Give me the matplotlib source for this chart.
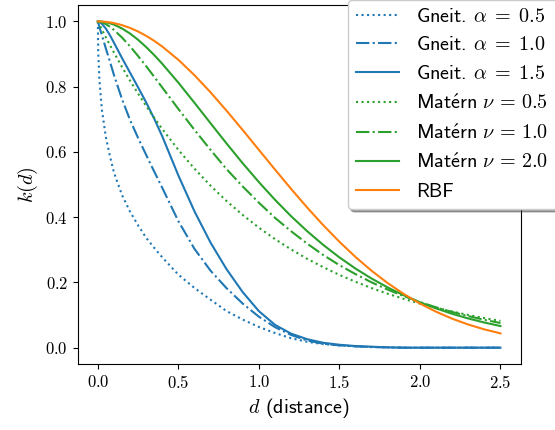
import matplotlib
matplotlib.use("Agg")
import matplotlib.pyplot as plt

plt.rcParams['font.family'] = ['cmss10', 'DejaVu Sans']
plt.rcParams['mathtext.fontset'] = 'cm'

# distances at which each kernel was evaluated
d = [0, 0.0025, 0.01, 0.025, 0.05, 0.075, 0.1, 0.15, 0.2, 0.25, 0.3, 0.35, 0.4,
     0.5, 0.6, 0.7, 0.8, 0.9, 1.0, 1.1, 1.2, 1.3, 1.4, 1.5, 1.6, 1.7, 1.8, 1.9,
     2.0, 2.1, 2.2, 2.3, 2.4, 2.5]

gneit_05 = [1.0, 0.905, 0.82, 0.73, 0.645, 0.588, 0.537, 0.468, 0.417, 0.375, 0.337, 0.306, 0.277,
            0.224, 0.183, 0.147, 0.112, 0.086, 0.0635, 0.045, 0.029, 0.018, 0.011, 0.007, 0.004,
            0.002, 0.001, 0, 0, 0, 0, 0, 0, 0]
gneit_10 = [1.0, 0.996, 0.983, 0.958, 0.917, 0.877, 0.836, 0.762, 0.698, 0.643, 0.591, 0.54, 0.49,
            0.388, 0.303, 0.236, 0.182, 0.135, 0.095, 0.063, 0.039, 0.022, 0.012, 0.007, 0.004,
            0.002, 0.001, 0, 0, 0, 0, 0, 0, 0]
gneit_15 = [1.0, 1.0, 0.998, 0.993, 0.978, 0.958, 0.935, 0.888, 0.843, 0.798, 0.752, 0.702, 0.648,
            0.528, 0.418, 0.322, 0.24, 0.17, 0.112, 0.07, 0.043, 0.026, 0.015, 0.009, 0.005,
            0.003, 0.001, 0, 0, 0, 0, 0, 0, 0]
matern_05 = [1.0, 0.9975, 0.99, 0.9753, 0.9512, 0.9277, 0.9048, 0.8607, 0.8187, 0.7788, 0.7408, 0.7047, 0.6703,
             0.6065, 0.5488, 0.4966, 0.4493, 0.4066, 0.3679, 0.3329, 0.3012, 0.2725, 0.2466, 0.2231, 0.2019,
             0.1827, 0.1653, 0.1496, 0.1353, 0.1225, 0.1108, 0.1003, 0.0907, 0.0821]
matern_10 = [1.0, 1.0, 0.9995, 0.9975, 0.9918, 0.9839, 0.9741, 0.9508, 0.9238, 0.8941, 0.8629, 0.8305, 0.7976,
             0.7319, 0.6678, 0.6062, 0.547, 0.494, 0.4445, 0.398, 0.357, 0.319, 0.284, 0.253, 0.2255,
             0.2002, 0.178, 0.158, 0.1399, 0.1238, 0.1096, 0.0969, 0.0854, 0.0756]
matern_20 = [1.0, 1.0, 0.9999, 0.9994, 0.9975, 0.9944, 0.9903, 0.9786, 0.963, 0.9438, 0.9216, 0.897, 0.8703,
             0.8124, 0.7508, 0.6879, 0.6256, 0.5651, 0.5076, 0.4534, 0.4031, 0.357, 0.3149, 0.2768, 0.2425,
             0.2119, 0.1846, 0.1606, 0.1392, 0.1205, 0.1039, 0.0896, 0.0771, 0.0663]
rbf = [1.0, 1.0, 1.0, 0.9997, 0.9988, 0.9972, 0.995, 0.9888, 0.9802, 0.9692, 0.956, 0.9406, 0.9231,
       0.8825, 0.8353, 0.7827, 0.7261, 0.667, 0.6065, 0.5461, 0.4868, 0.4296, 0.3753, 0.3247, 0.278,
       0.2357, 0.1979, 0.1645, 0.1353, 0.1103, 0.0889, 0.071, 0.0561, 0.0439]

xticks = [0.0, 0.5, 1.0, 1.5, 2.0, 2.5]
yticks = [0.0, 0.2, 0.4, 0.6, 0.8, 1.0]

fig = plt.figure(figsize=(5.55, 4.3), dpi=100)
ax = fig.add_axes([0.14, 0.1535, 0.798, 0.8345])

ax.plot(d, gneit_05, color='tab:blue', ls=':', label=r'Gneit. $\alpha\;=\;\mathsf{0.5}$')
ax.plot(d, gneit_10, color='tab:blue', ls='-.', label=r'Gneit. $\alpha\;=\;\mathsf{1.0}$')
ax.plot(d, gneit_15, color='tab:blue', ls='-', label=r'Gneit. $\alpha\;=\;\mathsf{1.5}$')
ax.plot(d, matern_05, color='tab:green', ls=':', label=r'$\mathsf{Mat\acute{e}rn}\ \nu\,=\,\mathsf{0.5}$')
ax.plot(d, matern_10, color='tab:green', ls='-.', label=r'$\mathsf{Mat\acute{e}rn}\ \nu\,=\,\mathsf{1.0}$')
ax.plot(d, matern_20, color='tab:green', ls='-', label=r'$\mathsf{Mat\acute{e}rn}\ \nu\,=\,\mathsf{2.0}$')
ax.plot(d, rbf, color='tab:orange', ls='-', label='RBF')

ax.set_xticks(xticks, labels=[f'${t:.1f}$' for t in xticks], fontsize=12)
ax.set_yticks(yticks, labels=[f'${t:.1f}$' for t in yticks], fontsize=12)
ax.set_xlabel(r'$d$ (distance)', fontsize=14.5)
ax.set_ylabel(r'$k(d)$', fontsize=14.5)

ax.legend(loc='lower left', bbox_to_anchor=(348 / 555, 1 - 209 / 430),
          bbox_transform=fig.transFigure, borderaxespad=0, shadow=True,
          fontsize=14.5, handlelength=2.15, handletextpad=0.85, labelspacing=0.52)

fig.savefig('out.png', dpi=100)
